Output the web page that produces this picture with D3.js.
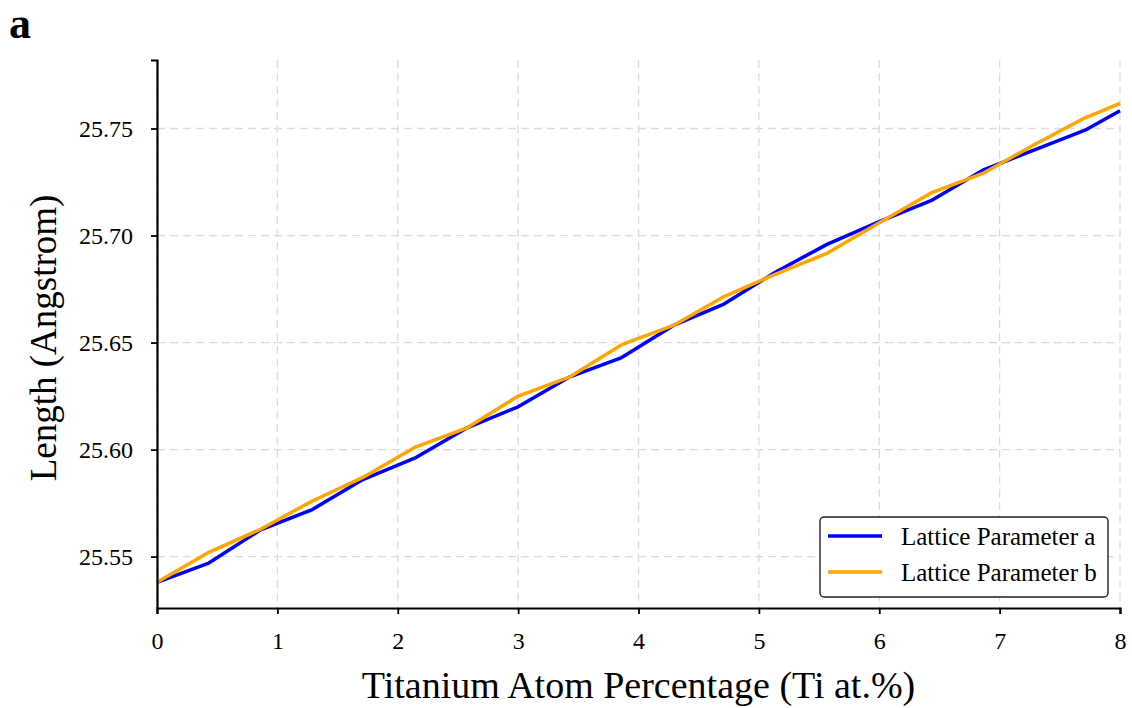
<!DOCTYPE html>
<html>
<head>
<meta charset="utf-8">
<script src="https://cdn.jsdelivr.net/npm/d3@7"></script>
<style>
  body { margin: 0; background: #fff; }
  svg { display: block; font-family: 'Liberation Serif', 'Times New Roman', serif; }
</style>
</head>
<body>
<div id="chart"></div>
<script>
// Ti content (at.%) and lattice parameters
const tiPercent = [0, 0.43, 0.86, 1.29, 1.71, 2.14, 2.57, 3.0, 3.43, 3.86, 4.29, 4.71, 5.14, 5.57, 6.0, 6.43, 6.86, 7.29, 7.71, 8.0];
const latticeA = [25.538, 25.547, 25.5625, 25.572, 25.586, 25.596, 25.61, 25.62, 25.634, 25.643, 25.658, 25.668, 25.683, 25.696, 25.7065, 25.7163, 25.7305, 25.74, 25.7492, 25.7583];
const latticeB = [25.538, 25.552, 25.5628, 25.576, 25.587, 25.601, 25.61, 25.625, 25.634, 25.649, 25.658, 25.6715, 25.682, 25.6918, 25.706, 25.7199, 25.729, 25.7425, 25.755, 25.7617];
const xTicks = [0, 1, 2, 3, 4, 5, 6, 7, 8];
const yTicks = [25.55, 25.6, 25.65, 25.7, 25.75];
const seriesNames = ['Lattice Parameter a', 'Lattice Parameter b'];
const seriesColors = ['#0000ff', '#ffa500'];

const W = 1132;
const H = 708;
const margin = { top: 60, right: 12, bottom: 100, left: 157 };
const width = W - margin.left - margin.right;
const height = H - margin.top - margin.bottom;

const svg = d3
  .select('#chart')
  .append('svg')
  .attr('width', W)
  .attr('height', H);

const group = svg
  .append('g')
  .attr('transform', 'translate(' + margin.left + ',' + margin.top + ')');

const x = d3.scaleLinear().domain([0, 8]).range([0, width]);
const y = d3.scaleLinear().domain([25.526, 25.782]).range([height, 0]);

// dashed grid
group
  .append('g')
  .selectAll('line')
  .data(xTicks)
  .join('line')
  .attr('x1', (d) => x(d))
  .attr('x2', (d) => x(d))
  .attr('y1', 0)
  .attr('y2', height)
  .attr('stroke', '#dcdcdc')
  .attr('stroke-width', 1.3)
  .attr('stroke-dasharray', '8,5');

group
  .append('g')
  .selectAll('line')
  .data(yTicks)
  .join('line')
  .attr('x1', 0)
  .attr('x2', width)
  .attr('y1', (d) => y(d))
  .attr('y2', (d) => y(d))
  .attr('stroke', '#dcdcdc')
  .attr('stroke-width', 1.3)
  .attr('stroke-dasharray', '8,5');

// lines
const rows = tiPercent.map((t, i) => ({ t, a: latticeA[i], b: latticeB[i] }));
const keys = ['a', 'b'];

keys.forEach((k, i) => {
  const line = d3
    .line()
    .x((d) => x(d.t))
    .y((d) => y(d[k]));
  group
    .append('path')
    .datum(rows)
    .attr('fill', 'none')
    .attr('stroke', seriesColors[i])
    .attr('stroke-width', 3.5)
    .attr('stroke-linejoin', 'round')
    .attr('stroke-linecap', 'butt')
    .attr('d', line);
});

// axes
let xAxis = (g) =>
  g
    .attr('transform', `translate(0, ${height})`)
    .call(d3.axisBottom(x).tickValues(xTicks).tickFormat(d3.format('d')).tickSize(6).tickPadding(18))
    .call((gr) => gr.select('.domain').attr('stroke', '#000').attr('stroke-width', 2.2))
    .call((gr) => gr.selectAll('.tick line').attr('stroke-width', 1.8))
    .call((gr) =>
      gr.selectAll('.tick text').attr('font-size', 24).attr('fill', '#000').attr('font-family', 'Liberation Serif, serif')
    );

let yAxis = (g) =>
  g
    .call(d3.axisLeft(y).tickValues(yTicks).tickFormat(d3.format('.2f')).tickSize(6).tickPadding(18))
    .call((gr) => gr.select('.domain').attr('stroke', '#000').attr('stroke-width', 2.2))
    .call((gr) => gr.selectAll('.tick line').attr('stroke-width', 1.8))
    .call((gr) =>
      gr.selectAll('.tick text').attr('font-size', 24).attr('fill', '#000').attr('font-family', 'Liberation Serif, serif')
    );

group.append('g').call(xAxis);
group.append('g').call(yAxis);
group.selectAll('.domain').attr('d', function () {
  return d3.select(this).attr('d').replace(/M-6|M0,6/, (m) => (m === 'M-6' ? 'M0' : 'M0,0'));
});

// axis labels
svg
  .append('text')
  .attr('x', margin.left + width / 2)
  .attr('y', 698)
  .attr('text-anchor', 'middle')
  .attr('font-size', 38)
  .text('Titanium Atom Percentage (Ti at.%)');

svg
  .append('text')
  .attr('transform', `translate(56, ${margin.top + height / 2 + 4}) rotate(-90)`)
  .attr('text-anchor', 'middle')
  .attr('font-size', 37)
  .text('Length (Angstrom)');

// panel letter
svg
  .append('text')
  .attr('x', 9)
  .attr('y', 38)
  .attr('font-size', 44)
  .attr('font-weight', 'bold')
  .text('a');

// legend
const legend = group.append('g').attr('transform', `translate(${820 - margin.left}, ${517 - margin.top})`);

legend
  .append('rect')
  .attr('width', 288)
  .attr('height', 80)
  .attr('rx', 4)
  .attr('fill', '#fff')
  .attr('stroke', '#222')
  .attr('stroke-width', 1.4);

seriesNames.forEach((name, i) => {
  const row = legend.append('g').attr('transform', `translate(0, ${19 + i * 36})`);
  row
    .append('line')
    .attr('x1', 8)
    .attr('x2', 62)
    .attr('stroke', seriesColors[i])
    .attr('stroke-width', 3.5);
  row
    .append('text')
    .attr('x', 81)
    .attr('y', 9)
    .attr('font-size', 25)
    .text(name);
});
</script>
</body>
</html>
